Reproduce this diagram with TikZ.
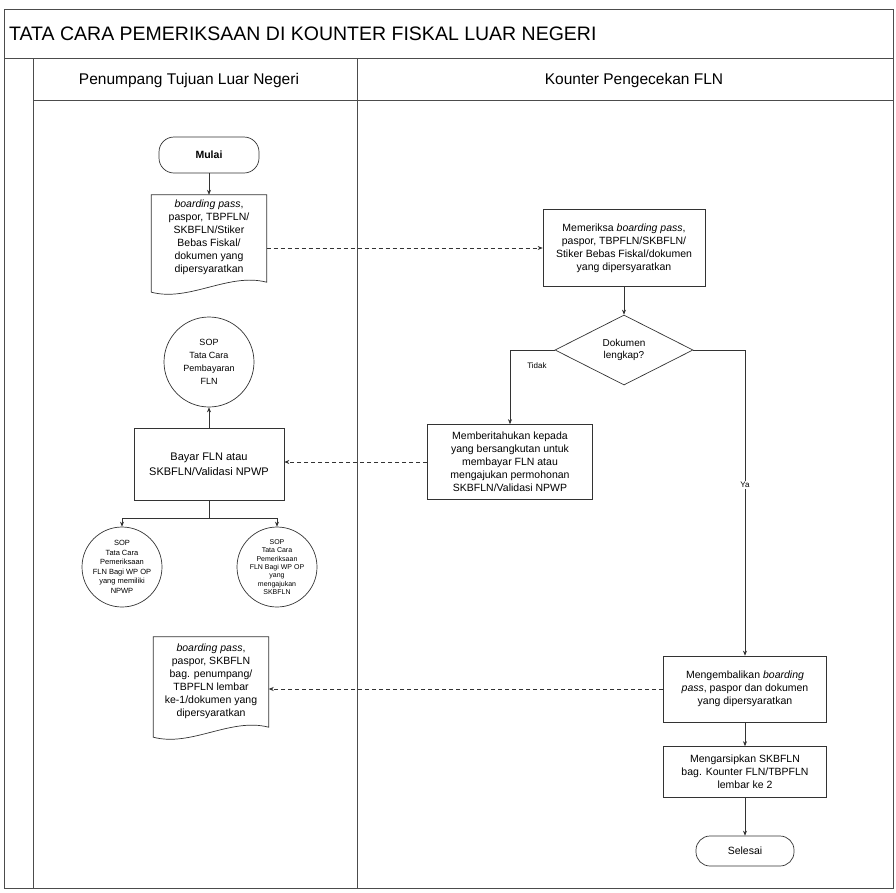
\documentclass[tikz,border=0pt]{standalone}
\usepackage{fontspec}
\setmainfont{Liberation Sans}
\usetikzlibrary{shapes.geometric,arrows.meta,calc}

\begin{document}
\begin{tikzpicture}[x=1pt,y=-1pt,
  frame/.style={draw=black!70, line width=0.7pt},
  flow/.style={draw=black!80, line width=0.6pt, -{Stealth[length=5pt,width=4pt]}},
  cross/.style={flow, dash pattern=on 4pt off 3pt},
  proc/.style={draw=black!80, line width=0.7pt, align=center, inner sep=2pt,
    font=\fontsize{10.5}{13}\selectfont},
  docnode/.style={align=center, inner sep=2pt, minimum width=115pt,
    font=\fontsize{10.5}{13}\selectfont},
  docline/.style={draw=black!80, line width=0.7pt},
  term/.style={draw=black!80, line width=0.7pt, rounded corners=15pt,
    font=\fontsize{10.5}{12}\selectfont},
  decision/.style={diamond, draw=black!80, line width=0.7pt, align=center,
    inner sep=0pt, minimum width=138pt, minimum height=70pt,
    font=\fontsize{10}{12}\selectfont},
  sop/.style={circle, draw=black!80, line width=0.7pt, align=center,
    inner sep=0pt, font=\fontsize{7.5}{9.5}\selectfont},
  lbl/.style={font=\fontsize{8}{9}\selectfont, inner sep=1pt}
]
% page
\fill[white] (0,0) rectangle (896,892);
\useasboundingbox (0,0) rectangle (896,892);

% frame, title row and swimlanes
\draw[frame] (4,9) rectangle (893,888);
\draw[frame] (4,58) -- (893,58);
\draw[frame] (33,58) -- (33,888);
\draw[frame] (33,100) -- (893,100);
\draw[frame] (357,58) -- (357,888);

\node[font=\fontsize{19.5}{22}\selectfont, anchor=west, inner sep=0pt] (title) at (9,34)
  {TATA CARA PEMERIKSAAN DI KOUNTER FISKAL LUAR NEGERI};
\node[font=\fontsize{15.5}{18}\selectfont] (laneA) at (189,80) {Penumpang Tujuan Luar Negeri};
\node[font=\fontsize{15.5}{18}\selectfont] (laneB) at (634,80) {Kounter Pengecekan FLN};

% passenger lane
\node[term, minimum width=100pt, minimum height=36pt, font=\fontsize{10.5}{12}\selectfont\bfseries]
  (mulai) at (209,155) {Mulai};
\node[docnode, minimum height=85pt] (d1) at (209,237.5)
  {\emph{boarding pass},\\ paspor, TBPFLN/\\ SKBFLN/Stiker\\ Bebas Fiskal/\\ dokumen yang\\ dipersyaratkan};
\node[sop, minimum size=90pt, font=\fontsize{9}{13}\selectfont] (sopA) at (209,362)
  {SOP\\ Tata Cara\\ Pembayaran\\ FLN};
\node[proc, minimum width=150pt, minimum height=72pt, font=\fontsize{11}{15}\selectfont]
  (bayar) at (209,464) {Bayar FLN atau\\ SKBFLN/Validasi NPWP};
\node[sop, minimum size=80pt] (sopB) at (122,567)
  {SOP\\ Tata Cara\\ Pemeriksaan\\ FLN Bagi WP OP\\ yang memiliki\\ NPWP};
\node[sop, minimum size=80pt, font=\fontsize{7}{8.4}\selectfont] (sopC) at (277,567)
  {SOP\\ Tata Cara\\ Pemeriksaan\\ FLN Bagi WP OP\\ yang\\ mengajukan\\ SKBFLN};
\node[docnode, minimum height=88pt] (d2) at (211,681)
  {\emph{boarding pass},\\ paspor, SKBFLN\\ bag. penumpang/\\ TBPFLN lembar\\ ke-1/dokumen yang\\ dipersyaratkan};

% counter lane
\node[proc, minimum width=162pt, minimum height=77pt] (periksa) at (624,248)
  {Memeriksa \emph{boarding pass},\\ paspor, TBPFLN/SKBFLN/\\ Stiker Bebas Fiskal/dokumen\\ yang dipersyaratkan};
\node[decision] (cek) at (624,350) {Dokumen\\ lengkap?};
\node[proc, minimum width=165pt, minimum height=75pt] (beritahu) at (510,462)
  {Memberitahukan kepada\\ yang bersangkutan untuk\\ membayar FLN atau\\ mengajukan permohonan\\ SKBFLN/Validasi NPWP};
\node[proc, minimum width=163pt, minimum height=66pt] (kembali) at (745,689)
  {Mengembalikan \emph{boarding}\\ \emph{pass}, paspor dan dokumen\\ yang dipersyaratkan};
\node[proc, minimum width=163pt, minimum height=51pt, font=\fontsize{10.5}{13}\selectfont]
  (arsip) at (745,772) {Mengarsipkan SKBFLN\\ bag. Kounter FLN/TBPFLN\\ lembar ke 2};
\node[term, minimum width=98pt, minimum height=30pt, rounded corners=14pt] (selesai) at (745,851) {Selesai};

% document outlines with wavy bottom
\foreach \d in {d1,d2}
  \draw[docline] (\d.north west) -- (\d.north east) -- ($(\d.south east)+(0,2)$)
    .. controls ($(\d.south east)+(-38,-8)$) and ($(\d.south west)+(38,22)$)
    .. ($(\d.south west)+(0,12)$) -- cycle;

% connectors
\draw[flow] (mulai) -- (d1);
\draw[cross] (d1.east |- periksa.west) -- (periksa.west);
\draw[flow] (periksa) -- (cek);
\draw[flow] (cek.west) -| (beritahu.north);
\node[lbl] (tidak) at (537,366) {Tidak};
\draw[cross] (beritahu.west) -- (bayar.east |- beritahu.west);
\draw[flow] (bayar) -- (sopA);
\draw[draw=black!80, line width=0.6pt] (bayar.south) -- ++(0,18) coordinate (split);
\draw[flow] (split) -| (sopB.north);
\draw[flow] (split) -| (sopC.north);
\draw[flow] (cek.east) -| (kembali.north);
\node[lbl, fill=white] (ya) at (745,485) {Ya};
\draw[cross] (kembali.west) -- (d2.east |- kembali.west);
\draw[flow] (kembali) -- (arsip);
\draw[flow] (arsip) -- (selesai);
\end{tikzpicture}
\end{document}
